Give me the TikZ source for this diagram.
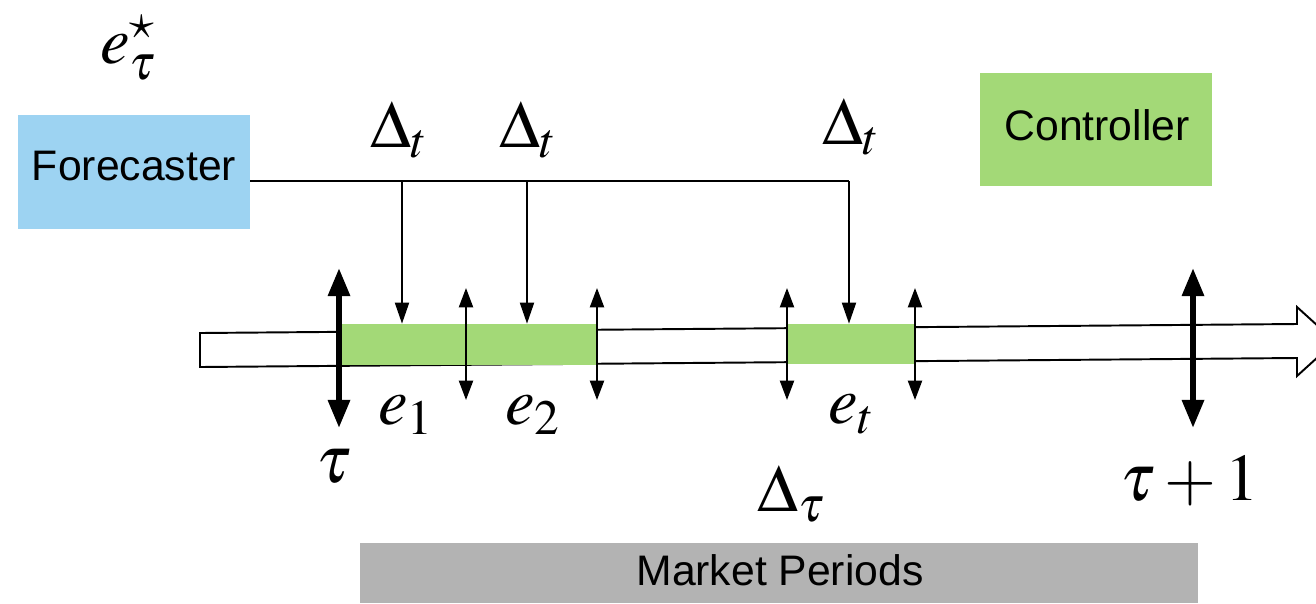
\documentclass[tikz,border=0pt]{standalone}
\usepackage{mathptmx}
\usepackage{fontspec}
\newfontfamily\arial{Liberation Sans}
\usetikzlibrary{arrows.meta}
\definecolor{fcblue}{HTML}{9DD3F2}
\definecolor{ctgreen}{HTML}{A3D977}
\definecolor{mpgray}{HTML}{B3B3B3}
\begin{document}
\begin{tikzpicture}[x=0.02cm,y=-0.02cm,
  boxlabel/.style={font=\arial\fontsize{24.3}{28}\selectfont, inner sep=0pt},
  mathlabel/.style={font=\fontsize{38}{44}\selectfont, inner sep=0pt, anchor=base west},
  conn/.style={line width=1.1pt},
  droparr/.style={line width=1.1pt, -{Triangle[length=12pt,width=8pt]}},
  tickarr/.style={line width=1.1pt, {Triangle[length=11pt,width=8pt]}-{Triangle[length=11pt,width=8pt]}},
  bigtick/.style={line width=3.4pt, {Triangle[length=16pt,width=12pt]}-{Triangle[length=16pt,width=12pt]}},
  period/.style={fill=ctgreen, inner sep=0pt}
]
\useasboundingbox (0,0) rectangle (1316,603);

% boxes
\node[fill=fcblue, minimum width=4.64cm, minimum height=2.28cm, inner sep=0pt] (fc) at (134,172) {};
\node[boxlabel] (fctext) at (134,166) {Forecaster};
\node[fill=ctgreen, minimum width=4.64cm, minimum height=2.26cm, inner sep=0pt] (ct) at (1096,129.5) {};
\node[boxlabel] (cttext) at (1097,125) {Controller};
\node[fill=mpgray, minimum width=16.76cm, minimum height=1.2cm, inner sep=0pt] (mp) at (779,573) {};
\node[boxlabel] (mptext) at (780,570) {Market Periods};

% time line arrow
\draw[conn, fill=white] (200,333) -- (1297,324) -- (1297,307) -- (1335,341.5)
  -- (1297,376) -- (1297,358) -- (200,367) -- cycle;

% market periods on the line
\node[period, minimum width=5.1cm, minimum height=0.82cm] (g1) at (469.5,344.5) {};
\node[period, minimum width=2.58cm, minimum height=0.8cm] (g2) at (851.5,344) {};

% forecaster signal line
\coordinate (j1) at (402,181);
\coordinate (j2) at (527,181);
\coordinate (j3) at (849,181);
\draw[conn] (fc.east |- j3) -- (j3);
\draw[droparr] (j1) -- (j1 |- g1.north);
\draw[droparr] (j2) -- (j2 |- g1.north);
\draw[droparr] (j3) -- (j3 |- g2.north);

% period boundaries
\draw[bigtick] (339,268) -- (339,428);
\draw[bigtick] (1193,268) -- (1193,428);
\draw[tickarr] (466,288) -- (466,400);
\draw[tickarr] (597,288) -- (597,400);
\draw[tickarr] (787,288) -- (787,400);
\draw[tickarr] (915,288) -- (915,400);

% labels
\node[mathlabel] (estar) at (100,63) {$e_\tau^\star$};
\node[mathlabel] (d1) at (370,147) {$\Delta_t$};
\node[mathlabel] (d2) at (499,147) {$\Delta_t$};
\node[mathlabel] (d3) at (822,144) {$\Delta_t$};
\node[mathlabel] (e1) at (378,424) {$e_1$};
\node[mathlabel] (e2) at (505,424) {$e_2$};
\node[mathlabel] (et) at (828,423) {$e_t$};
\node[mathlabel] (tau) at (316,482) {$\tau$};
\node[mathlabel] (dtau) at (757,511) {$\Delta_\tau$};
\node[mathlabel] (tau1) at (1120,500) {$\tau+1$};
\end{tikzpicture}
\end{document}
